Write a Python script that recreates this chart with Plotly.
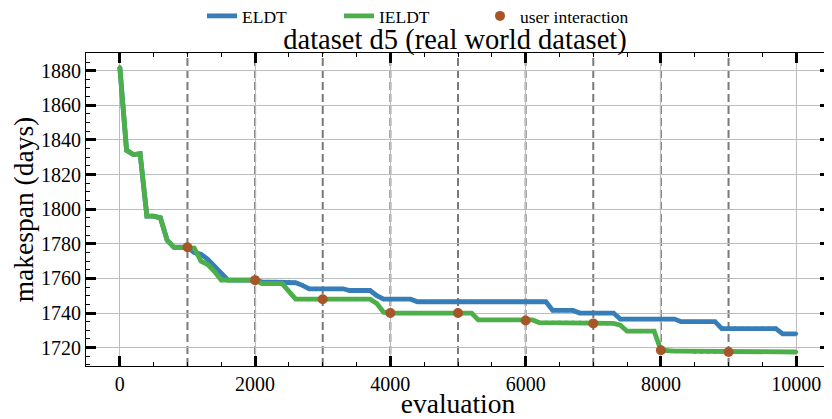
import plotly.graph_objects as go

evaluation = list(range(0, 10001, 100))

eldt = [
    1882, 1834, 1831.5, 1832, 1796, 1796, 1795, 1782, 1778, 1778,
    1778, 1775, 1774, 1771, 1767, 1763, 1759, 1759, 1759, 1759,
    1759, 1758, 1758, 1758, 1758, 1758, 1757.5, 1756, 1754, 1754,
    1754, 1754, 1754, 1754, 1753, 1753, 1753, 1753, 1750, 1748,
    1748, 1748, 1748, 1748, 1746.5, 1746.5, 1746.5, 1746.5, 1746.5, 1746.5,
    1746.5, 1746.5, 1746.5, 1746.5, 1746.5, 1746.5, 1746.5, 1746.5, 1746.5, 1746.5,
    1746.5, 1746.5, 1746.5, 1746.5, 1741.5, 1741.5, 1741.5, 1741.5, 1740, 1740,
    1740, 1740, 1740, 1740, 1736.5, 1736.5, 1736.5, 1736.5, 1736.5, 1736.5,
    1736.5, 1736.5, 1736.5, 1735, 1735, 1735, 1735, 1735, 1735, 1731,
    1731, 1731, 1731, 1731, 1731, 1731, 1731, 1731, 1728, 1728,
    1728,
]

ieldt = [
    1882, 1834, 1831.5, 1832, 1796, 1796, 1795, 1782, 1778, 1778,
    1778, 1777.5, 1770, 1768, 1764, 1759, 1759, 1759, 1759, 1759,
    1759, 1757, 1757, 1757, 1757, 1752.5, 1748, 1748, 1748, 1748,
    1748, 1748, 1748, 1748, 1748, 1748, 1748, 1748, 1745.5, 1740.5,
    1740, 1740, 1740, 1740, 1740, 1740, 1740, 1740, 1740, 1740,
    1740, 1740, 1740, 1736, 1736, 1736, 1736, 1736, 1736, 1736,
    1736, 1736, 1734.5, 1734.5, 1734.5, 1734.5, 1734.5, 1734.5, 1734.5, 1734.5,
    1734, 1734, 1734, 1734, 1733, 1729.5, 1729.5, 1729.5, 1729.5, 1729.5,
    1718.5, 1718, 1718, 1718, 1718, 1717.5, 1717.5, 1717.5, 1717.5, 1717.5,
    1717.5, 1717.5, 1717.5, 1717.5, 1717.5, 1717.5, 1717.5, 1717.5, 1717.5, 1717.5,
    1717.5,
]

interaction_x = [1000, 2000, 3000, 4000, 5000, 6000, 7000, 8000, 9000]
interaction_y = [1778, 1759, 1748, 1740, 1740, 1735.7, 1734, 1718.5, 1717.5]

x_ticks = [0, 2000, 4000, 6000, 8000, 10000]
y_ticks = [1720, 1740, 1760, 1780, 1800, 1820, 1840, 1860, 1880]

BLUE = "#377eb8"
GREEN = "#4daf4a"
BROWN = "#a65628"
FONT = "Liberation Serif"

W, H = 824, 411  # page body keeps an 8px margin inside the 832x419 window

fig = go.Figure()
fig.add_trace(go.Scatter(
    x=evaluation, y=eldt, mode="lines+markers", name="ELDT", legend="legend",
    line=dict(color=BLUE, width=4.8), marker=dict(color=BLUE, size=4),
))
fig.add_trace(go.Scatter(
    x=evaluation, y=ieldt, mode="lines+markers", name="IELDT", legend="legend2",
    line=dict(color=GREEN, width=4.8), marker=dict(color=GREEN, size=4),
))
fig.add_trace(go.Scatter(
    x=interaction_x, y=interaction_y, mode="markers", name="user interaction", legend="legend3",
    marker=dict(color=BROWN, size=10),
))

for xv in interaction_x:
    fig.add_shape(type="line", xref="x", yref="paper", x0=xv, x1=xv, y0=0, y1=1,
                  line=dict(color="#7a7a7a", width=2, dash="8px,4px"), layer="below")

axis_common = dict(
    showline=True, linecolor="black", linewidth=1, mirror="ticks",
    ticks="inside", ticklen=10, tickwidth=2.5, tickcolor="black",
    showgrid=True, gridcolor="#bdbdbd", gridwidth=1, zeroline=False,
    tickfont=dict(family=FONT, size=20, color="black"), automargin=False,
)

fig.update_xaxes(
    **axis_common, range=[-500, 10500], tickvals=x_ticks,
    ticktext=[str(v) for v in x_ticks],
    minor=dict(dtick=500, tick0=0, ticks="inside", ticklen=4, tickwidth=1, tickcolor="black", showgrid=False),
    title=dict(text="evaluation", font=dict(family=FONT, size=27.5, color="black"), standoff=0),
)
fig.update_yaxes(
    **axis_common, range=[1709.4, 1890.2], tickvals=y_ticks,
    ticktext=[str(v) for v in y_ticks],
    minor=dict(dtick=5, tick0=1720, ticks="inside", ticklen=4, tickwidth=1, tickcolor="black", showgrid=False),
    title=dict(text="makespan (days)", font=dict(family=FONT, size=27.5, color="black"), standoff=0),
)

legend_common = dict(
    orientation="h", xref="container", yref="container", xanchor="left",
    y=1 - 8 / H, yanchor="middle", font=dict(family=FONT, size=17.5, color="black"),
    bgcolor="rgba(0,0,0,0)",
)

fig.update_layout(
    width=W, height=H,
    margin=dict(l=78, r=2, t=45, b=53),
    paper_bgcolor="white", plot_bgcolor="white",
    font=dict(family=FONT, color="black"),
    title=dict(text="dataset d5 (real world dataset)", font=dict(family=FONT, size=28.5, color="black"),
               x=447 / W, xanchor="center", xref="container", y=1 - 31 / H, yanchor="middle",
               yref="container", automargin=False),
    legend=dict(**legend_common, x=194 / W),
    legend2=dict(**legend_common, x=331 / W),
    legend3=dict(**legend_common, x=472 / W),
    showlegend=True,
)

fig.write_html("out.html")
